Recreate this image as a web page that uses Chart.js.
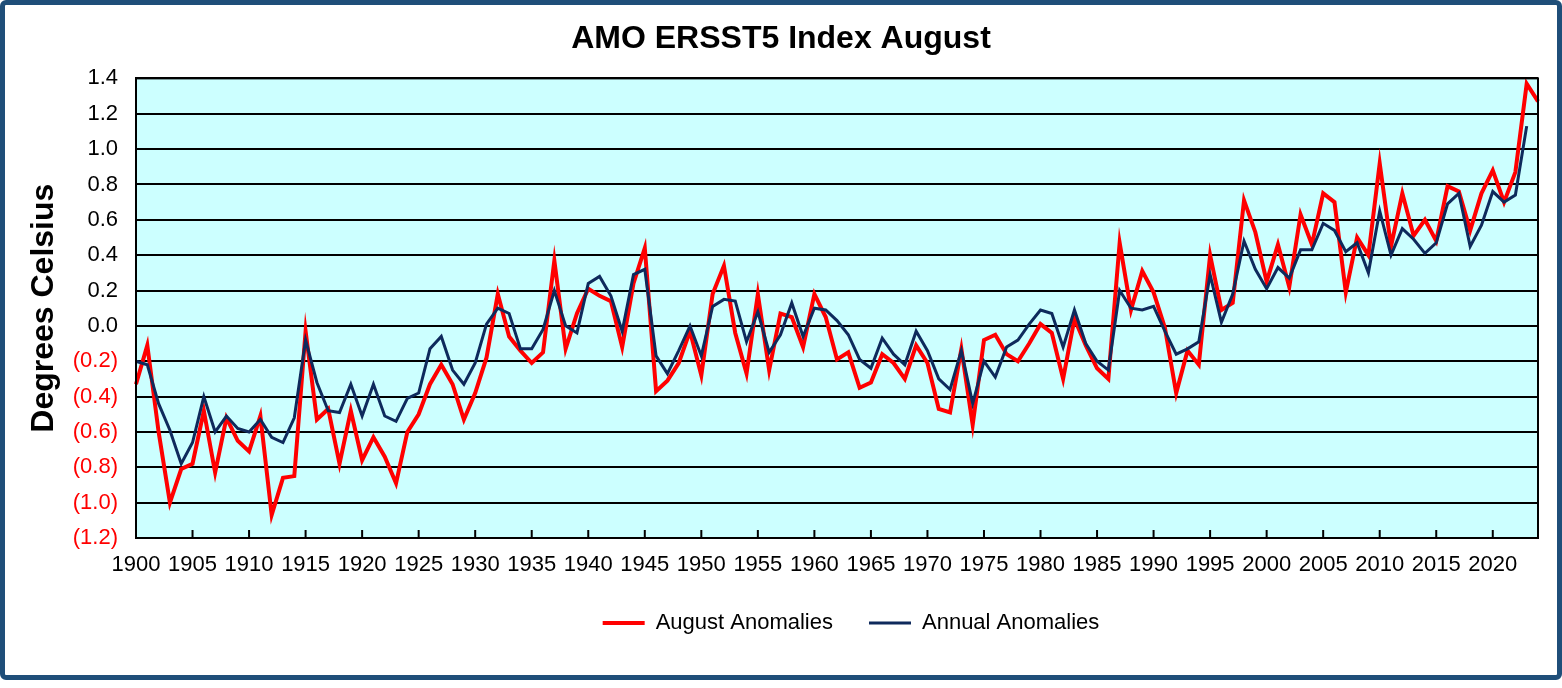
<!DOCTYPE html>
<html lang="en">
<head>
  <meta charset="UTF-8">
  <title>AMO ERSST5 Index August</title>
  <script src="https://cdn.jsdelivr.net/npm/chart.js"></script>
  <style>
    body { margin: 0; background: #fff; }
    .frame {
      position: absolute; left: 0; top: 0;
      width: 1552px; height: 670px;
      border: 5px solid #1F4E79; border-radius: 6px;
    }
    #amo { position: absolute; left: 0; top: 0; }
  </style>
</head>
<body>
<div class="frame"></div>
<canvas id="amo" width="1562" height="688"></canvas>

<script>
// years on the category axis (1900 - 2024)
const years = [];
for (let y = 1900; y <= 2024; y++) years.push(String(y));

// August anomalies, 1900 - 2024
const augustAnomalies = [
  -0.33, -0.11, -0.60, -1.00, -0.81, -0.78, -0.48, -0.83, -0.52, -0.65,
  -0.71, -0.51, -1.07, -0.86, -0.85, -0.03, -0.53, -0.47, -0.78, -0.48,
  -0.76, -0.63, -0.74, -0.89, -0.60, -0.50, -0.33, -0.22, -0.33, -0.53,
  -0.38, -0.18, 0.18, -0.06, -0.14, -0.21, -0.15, 0.37, -0.13, 0.07,
  0.21, 0.17, 0.14, -0.12, 0.24, 0.44, -0.37, -0.31, -0.21, -0.03,
  -0.28, 0.18, 0.34, -0.04, -0.27, 0.18, -0.25, 0.07, 0.05, -0.12,
  0.18, 0.05, -0.19, -0.15, -0.35, -0.32, -0.16, -0.21, -0.30, -0.11,
  -0.21, -0.47, -0.49, -0.13, -0.56, -0.08, -0.05, -0.16, -0.20, -0.10,
  0.01, -0.04, -0.30, 0.04, -0.11, -0.24, -0.30, 0.47, 0.09, 0.31,
  0.19, -0.01, -0.38, -0.14, -0.22, 0.40, 0.09, 0.13, 0.71, 0.53,
  0.25, 0.46, 0.22, 0.63, 0.46, 0.75, 0.70, 0.19, 0.50, 0.40,
  0.92, 0.45, 0.75, 0.51, 0.60, 0.48, 0.79, 0.76, 0.54, 0.75,
  0.88, 0.70, 0.87, 1.37, 1.27
];

// Annual anomalies, 1900 - 2023
const annualAnomalies = [
  -0.20, -0.22, -0.44, -0.59, -0.78, -0.66, -0.40, -0.60, -0.51, -0.58,
  -0.60, -0.53, -0.63, -0.66, -0.52, -0.08, -0.32, -0.48, -0.49, -0.33,
  -0.51, -0.33, -0.51, -0.54, -0.41, -0.38, -0.13, -0.06, -0.25, -0.33,
  -0.21, 0.01, 0.10, 0.07, -0.13, -0.13, -0.02, 0.20, 0.00, -0.04,
  0.24, 0.28, 0.17, -0.03, 0.29, 0.32, -0.17, -0.27, -0.14, 0.00,
  -0.17, 0.11, 0.15, 0.14, -0.09, 0.08, -0.15, -0.05, 0.13, -0.06,
  0.10, 0.09, 0.03, -0.05, -0.19, -0.24, -0.07, -0.16, -0.22, -0.03,
  -0.14, -0.30, -0.36, -0.14, -0.44, -0.20, -0.29, -0.12, -0.08, 0.01,
  0.09, 0.07, -0.12, 0.09, -0.10, -0.20, -0.25, 0.20, 0.10, 0.09,
  0.11, -0.03, -0.16, -0.13, -0.09, 0.29, 0.02, 0.18, 0.48, 0.32,
  0.21, 0.33, 0.27, 0.43, 0.43, 0.58, 0.54, 0.42, 0.47, 0.30,
  0.65, 0.40, 0.55, 0.49, 0.41, 0.47, 0.69, 0.75, 0.45, 0.57,
  0.76, 0.70, 0.74, 1.13
];

const labelEvery = 5;

Chart.defaults.font.family = "'Liberation Sans', Arial, sans-serif";
Chart.defaults.color = "#000";

// cyan plot background, plot border and the small inside tick marks
const plotFrame = {
  id: "plotFrame",
  afterLayout(chart) {
    // legend sits a bit right of centre in the original
    if (chart.legend) { chart.legend.left += 14; chart.legend.right += 14; }
  },
  beforeDraw(chart) {
    const a = chart.chartArea, ctx = chart.ctx;
    ctx.save();
    ctx.fillStyle = "#CCFFFF";
    ctx.fillRect(a.left, a.top, a.right - a.left, a.bottom - a.top);
    ctx.restore();
  },
  afterDraw(chart) {
    const a = chart.chartArea, ctx = chart.ctx;
    const x = chart.scales.x;
    ctx.save();
    ctx.strokeStyle = "#000";
    ctx.lineWidth = 2;
    ctx.strokeRect(a.left, a.top, a.right - a.left, a.bottom - a.top);
    ctx.beginPath();
    for (let i = labelEvery; i < years.length; i += labelEvery) {
      const px = x.getPixelForValue(i);
      ctx.moveTo(px, a.bottom);
      ctx.lineTo(px, a.bottom - 8);
    }
    ctx.stroke();
    ctx.restore();
  }
};

new Chart(document.getElementById("amo"), {
  type: "line",
  data: {
    labels: years,
    datasets: [
      {
        label: "August Anomalies",
        data: augustAnomalies,
        borderColor: "#FF0000",
        backgroundColor: "#FF0000",
        borderWidth: 4,
        order: 1
      },
      {
        label: "Annual Anomalies",
        data: annualAnomalies,
        borderColor: "#0E2A5C",
        backgroundColor: "#0E2A5C",
        borderWidth: 3,
        order: 0
      }
    ]
  },
  options: {
    responsive: false,
    animation: false,
    layout: { padding: { left: 24, right: 24, top: 0, bottom: 44 } },
    elements: {
      point: { radius: 0 },
      line: { tension: 0 }
    },
    scales: {
      x: {
        offset: false,
        grid: { display: false, drawTicks: false },
        border: { display: true, color: "#000", width: 2 },
        ticks: {
          autoSkip: false,
          maxRotation: 0,
          minRotation: 0,
          padding: 14,
          font: { size: 22 },
          color: "#000",
          callback: (v, i) => (i % labelEvery === 0 ? years[i] : "")
        },
        afterFit: (s) => { s.height = 38; }
      },
      y: {
        min: -1.2,
        max: 1.4,
        ticks: {
          stepSize: 0.2,
          padding: 18,
          font: { size: 22 },
          color: (c) => (c.tick && c.tick.value < -1e-9 ? "#FF0000" : "#000"),
          callback: (v) => {
            const r = Math.round(v * 10) / 10;
            return r < 0 ? "(" + Math.abs(r).toFixed(1) + ")" : r.toFixed(1);
          }
        },
        grid: { color: "#000", lineWidth: 2, drawTicks: false },
        border: { display: true, color: "#000", width: 2 },
        title: {
          display: true,
          text: "Degrees Celsius",
          font: { size: 32, weight: "bold" },
          color: "#000",
          padding: { top: 1, bottom: 0 }
        },
        afterFit: (s) => { s.width = 112; }
      }
    },
    plugins: {
      title: {
        display: true,
        text: "AMO ERSST5 Index August",
        font: { size: 32, weight: "bold" },
        color: "#000",
        padding: { top: 20, bottom: 20 }
      },
      legend: {
        position: "bottom",
        fullSize: false,
        labels: {
          usePointStyle: true,
          pointStyle: "line",
          pointStyleWidth: 42,
          padding: 36,
          font: { size: 22 },
          color: "#000",
          sort: (a, b) => a.datasetIndex - b.datasetIndex
        }
      },
      tooltip: { enabled: false }
    }
  },
  plugins: [plotFrame]
});
</script>
</body>
</html>
